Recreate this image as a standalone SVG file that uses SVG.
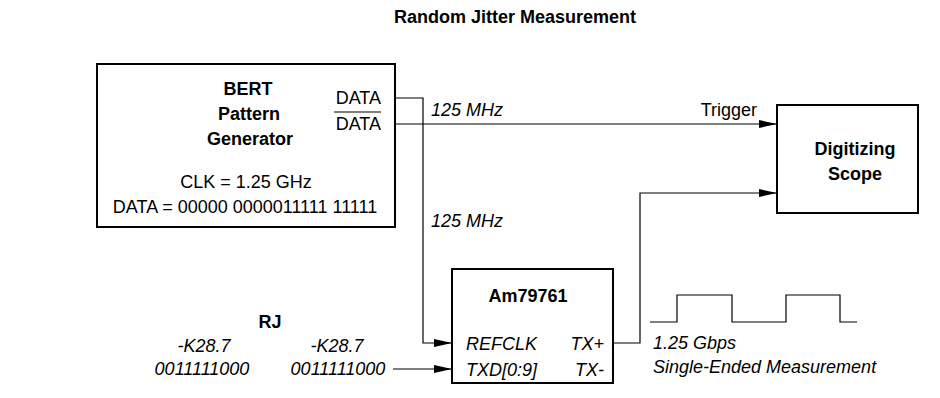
<svg xmlns="http://www.w3.org/2000/svg" width="940" height="398" viewBox="0 0 940 398">
<style>
text{font-family:"Liberation Sans",Arial,sans-serif;fill:#000;font-size:18px}
.b{font-weight:bold}
.i{font-style:italic}
.box{fill:#fff;stroke:#000;stroke-width:2}
.w{fill:none;stroke:#000;stroke-width:1.2}
</style>
<defs>
<marker id="ah" viewBox="0 0 18 8" refX="18" refY="4" markerWidth="18" markerHeight="8" markerUnits="userSpaceOnUse" orient="auto"><path d="M0,0 L18,4 L0,8 Z" fill="#000"/></marker>
</defs>
<rect width="940" height="398" fill="#fff"/>
<text class="b" x="515" y="23" text-anchor="middle">Random Jitter Measurement</text>
<g id="connectors">
<path class="w" d="M396,98 H423 V343 H452" marker-end="url(#ah)"/>
<path class="w" d="M396,124 H777" marker-end="url(#ah)"/>
<path class="w" d="M613,343 H640 V193 H777" marker-end="url(#ah)"/>
<path class="w" d="M393,369 H452" marker-end="url(#ah)"/>
<text class="i" x="431" y="116">125 MHz</text>
<text class="i" x="431" y="227">125 MHz</text>
<text x="757" y="116" text-anchor="end">Trigger</text>
</g>
<g id="bert">
<rect class="box" x="97" y="64" width="298" height="163"/>
<text class="b" x="248" y="95" text-anchor="middle">BERT</text>
<text class="b" x="249" y="120" text-anchor="middle">Pattern</text>
<text class="b" x="250" y="145" text-anchor="middle">Generator</text>
<text x="246" y="188" text-anchor="middle">CLK = 1.25 GHz</text>
<text x="245" y="213" text-anchor="middle">DATA = 00000 0000011111 11111</text>
<text x="381" y="104" text-anchor="end">DATA</text>
<line x1="334" y1="112" x2="381" y2="112" stroke="#000" stroke-width="1"/>
<text x="381" y="130" text-anchor="end">DATA</text>
</g>
<g id="scope">
<rect class="box" x="777" y="105" width="141" height="108"/>
<text class="b" x="855" y="155" text-anchor="middle">Digitizing</text>
<text class="b" x="855" y="180" text-anchor="middle">Scope</text>
</g>
<g id="am79761">
<rect class="box" x="452" y="269" width="161" height="114"/>
<text class="b" x="528" y="302" text-anchor="middle">Am79761</text>
<text class="i" x="466" y="350">REFCLK</text>
<text class="i" x="466" y="376">TXD[0:9]</text>
<text class="i" x="604" y="350" text-anchor="end">TX+</text>
<text class="i" x="604" y="376" text-anchor="end">TX-</text>
</g>
<g id="rj">
<text class="b" x="270" y="328" text-anchor="middle">RJ</text>
<text class="i" x="204" y="352" text-anchor="middle">-K28.7</text>
<text class="i" x="202" y="375" text-anchor="middle">0011111000</text>
<text class="i" x="337" y="352" text-anchor="middle">-K28.7</text>
<text class="i" x="338" y="375" text-anchor="middle">0011111000</text>
</g>
<g id="waveform">
<path class="w" d="M650,322 H677 V295 H732 V322 H786 V295 H840 V322 H857"/>
<text class="i" x="653" y="349">1.25 Gbps</text>
<text class="i" x="653" y="373">Single-Ended Measurement</text>
</g>
</svg>
